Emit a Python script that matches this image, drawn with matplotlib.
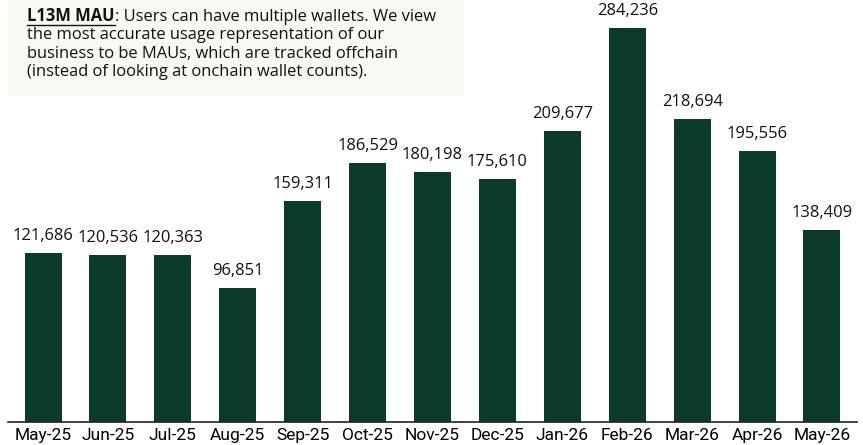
import matplotlib.pyplot as plt
from matplotlib.patches import Rectangle

months = ["May-25", "Jun-25", "Jul-25", "Aug-25", "Sep-25", "Oct-25", "Nov-25",
          "Dec-25", "Jan-26", "Feb-26", "Mar-26", "Apr-26", "May-26"]
mau = [121686, 120536, 120363, 96851, 159311, 186529, 180198,
       175610, 209677, 284236, 218694, 195556, 138409]

FONT = "Open Sans"
FS = 11.9

fig = plt.figure(figsize=(8.63, 4.45), dpi=100)
ax = fig.add_axes([8 / 863, 23 / 445, 849 / 863, 422 / 445])

x = range(len(mau))
ax.bar(x, mau, width=0.57, color="#0c3b2b")
for i, v in zip(x, mau):
    ax.text(i, v + 6500, f"{v:,}", ha="center", va="bottom",
            fontsize=FS, family=FONT, color="#111111")

ax.set_xlim(-0.54, 12.54)
ax.set_ylim(0, 304400)
ax.set_xticks(list(x))
ax.set_xticklabels(months, fontsize=12.5, family=["Liberation Sans Narrow", "Roboto"])
ax.tick_params(axis="x", length=0, pad=4)
ax.set_yticks([])
for s in ["top", "right", "left"]:
    ax.spines[s].set_visible(False)
ax.spines["bottom"].set_linewidth(1.2)
ax.spines["bottom"].set_color("#222222")

# note box in the top-left corner
fig.patches.append(Rectangle((8 / 863, 1 - 95 / 445), 454 / 863, 95 / 445,
                             transform=fig.transFigure, color="#faf8f2", zorder=0))
note = [
    "the most accurate usage representation of our",
    "business to be MAUs, which are tracked offchain",
    "(instead of looking at onchain wallet counts).",
]
title = fig.text(27 / 863, 1 - 21 / 445, "L13M MAU", fontsize=FS, family=FONT,
                 weight="bold", color="#111111")
fig.canvas.draw()
bb = title.get_window_extent()
fig.text(bb.x1 / 863, 1 - 21 / 445, ": Users can have multiple wallets. We view",
         fontsize=FS, family=FONT, color="#111111")
fig.add_artist(plt.Line2D([bb.x0 / 863, bb.x1 / 863], [1 - 24.5 / 445, 1 - 24.5 / 445],
                          transform=fig.transFigure, color="#111111", lw=1))
for k, line in enumerate(note):
    fig.text(27 / 863, 1 - (39.3 + 18.3 * k) / 445, line, fontsize=FS,
             family=FONT, color="#111111")

fig.savefig("out.png", dpi=100)
